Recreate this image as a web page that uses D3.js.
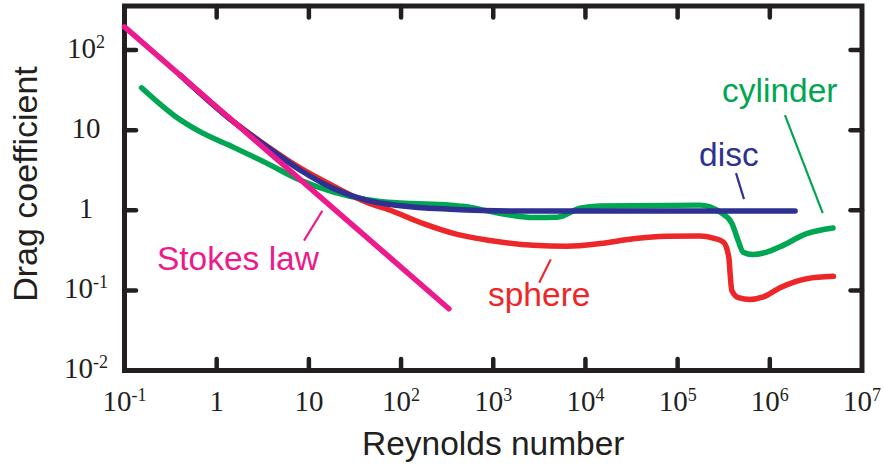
<!DOCTYPE html>
<html>
<head>
<meta charset="utf-8">
<script src="https://cdn.jsdelivr.net/npm/d3@7"></script>
<style>
  body { margin: 0; background: #fff; }
</style>
</head>
<body>
<svg id="chart" width="884" height="466"></svg>
<script>
// Tick decades on each axis (powers of ten)
const xTickExponents = [-1, 0, 1, 2, 3, 4, 5, 6, 7];
const yTickExponents = [-2, -1, 0, 1, 2];

// Drag coefficient curves: [Reynolds number, drag coefficient]
const stokes = [[0.1, 195], [330, 0.059]];

const cylinder = [
  [0.153, 33.8], [0.342, 15.4], [0.667, 9.5], [1.53, 6.1], [3.52, 3.85],
  [8.1, 2.37], [18.6, 1.69], [42.8, 1.36], [98, 1.23], [342, 1.16],
  [470, 1.12], [1000, 0.95], [1530, 0.87], [2720, 0.81], [4940, 0.82],
  [8770, 1.06], [14500, 1.13], [175000, 1.16], [289000, 0.95], [387000, 0.69],
  [453000, 0.42], [513000, 0.30], [658000, 0.28], [927000, 0.30],
  [1.29e6, 0.35], [2.51e6, 0.51], [4.85e6, 0.60]
];

const sphere = [
  [0.4, 48.8], [1.3, 14.8], [3.53, 6.3], [8.1, 3.35], [18.5, 2.0],
  [42.8, 1.25], [76.4, 1.0], [175, 0.68], [405, 0.50], [927, 0.42],
  [2730, 0.365], [6300, 0.355], [14500, 0.384], [33000, 0.44], [76400, 0.473],
  [175000, 0.477], [243000, 0.45], [314000, 0.40], [359000, 0.26],
  [371000, 0.162], [387000, 0.10], [457000, 0.081], [611000, 0.077],
  [851000, 0.083], [1.29e6, 0.108], [2.51e6, 0.14], [4.89e6, 0.15]
];

const disc = [
  [0.4, 48.8], [1.3, 14.7], [3.53, 6.18], [8.1, 3.16], [18.5, 1.87],
  [42.8, 1.33], [98, 1.14], [342, 1.03], [1530, 0.98], [1.88e6, 0.98]
];

const seriesNames = ["cylinder", "sphere", "disc", "Stokes law"];
const xTitle = "Reynolds number";
const yTitle = "Drag coefficient";

// ---- layout ----
const colors = {
  "cylinder": "#00a651",
  "sphere": "#ed2629",
  "disc": "#2e3192",
  "Stokes law": "#ec1a8c"
};
const ink = "#231f20";

const svg = d3.select("#chart");

const x = d3.scaleLog().domain([0.1, 1e7]).range([124.5, 862]);
const y = d3.scaleLog().domain([0.01, 355]).range([370.5, 6]);

const [x0, x1] = x.range();
const [y0, y1] = y.range();

// Series drawn back to front
const series = [
  { name: "cylinder", data: cylinder, curve: d3.curveMonotoneX },
  { name: "sphere", data: sphere, curve: d3.curveMonotoneX },
  { name: "disc", data: disc, curve: d3.curveMonotoneX },
  { name: "Stokes law", data: stokes, curve: d3.curveLinear }
];

// Frame
svg.append("rect")
  .attr("x", x0).attr("y", y1)
  .attr("width", x1 - x0).attr("height", y0 - y1)
  .attr("fill", "none").attr("stroke", ink).attr("stroke-width", 5);

// Inward ticks on all four sides
const tickLen = 11.5;
const innerX = xTickExponents.slice(1, -1).map(e => Math.pow(10, e));
const innerY = yTickExponents.slice(1).map(e => Math.pow(10, e));
const ticks = svg.append("g")
  .attr("stroke", ink).attr("stroke-width", 4.5).attr("stroke-linecap", "round");
innerX.forEach(v => {
  ticks.append("line").attr("x1", x(v)).attr("x2", x(v)).attr("y1", y0).attr("y2", y0 - tickLen);
  ticks.append("line").attr("x1", x(v)).attr("x2", x(v)).attr("y1", y1).attr("y2", y1 + tickLen);
});
innerY.forEach(v => {
  ticks.append("line").attr("y1", y(v)).attr("y2", y(v)).attr("x1", x0).attr("x2", x0 + tickLen);
  ticks.append("line").attr("y1", y(v)).attr("y2", y(v)).attr("x1", x1).attr("x2", x1 - tickLen);
});

// Power-of-ten tick labels with superscripts
function powerLabel(sel, e) {
  if (e === 0) { sel.text("1"); return; }
  if (e === 1) { sel.text("10"); return; }
  sel.append("tspan").text("10");
  sel.append("tspan").attr("font-size", 18).attr("dy", -10).text(String(e));
}

const tickFont = "'Liberation Serif', 'Times New Roman', serif";
xTickExponents.forEach(e => {
  const t = svg.append("text")
    .attr("x", x(Math.pow(10, e))).attr("y", 410.5)
    .attr("text-anchor", "middle")
    .attr("font-family", tickFont).attr("font-size", 29).attr("fill", ink);
  powerLabel(t, e);
});
yTickExponents.forEach(e => {
  const t = svg.append("text")
    .attr("x", 86).attr("y", y(Math.pow(10, e)) + 7.5)
    .attr("text-anchor", "middle")
    .attr("font-family", tickFont).attr("font-size", 29).attr("fill", ink);
  powerLabel(t, e);
});

// Axis titles
const sansFont = "'Liberation Sans', Arial, Helvetica, sans-serif";
svg.append("text")
  .attr("x", (x0 + x1) / 2).attr("y", 455)
  .attr("text-anchor", "middle")
  .attr("font-family", sansFont).attr("font-size", 33.5).attr("fill", ink)
  .text(xTitle);
svg.append("text")
  .attr("transform", `translate(37,${184}) rotate(-90)`)
  .attr("text-anchor", "middle")
  .attr("font-family", sansFont).attr("font-size", 34).attr("fill", ink)
  .text(yTitle);

// Curves
const line = d3.line().x(d => x(d[0])).y(d => y(d[1]));
series.forEach(s => {
  svg.append("path")
    .datum(s.data)
    .attr("d", line.curve(s.curve))
    .attr("fill", "none")
    .attr("stroke", colors[s.name])
    .attr("stroke-width", 5.5)
    .attr("stroke-linecap", "round")
    .attr("stroke-linejoin", "round");
});

// Callout labels and leader lines, placed in data coordinates
const callouts = [
  { name: "Stokes law", text: [0.225, 0.179], leader: [[14.0, 0.986], [8.85, 0.419]] },
  { name: "sphere", text: [877, 0.0637], leader: [[4200, 0.244], [3150, 0.1245]] },
  { name: "disc", text: [1.71e5, 3.61], leader: [[4.3e5, 2.91], [5.25e5, 1.38]] },
  { name: "cylinder", text: [3.03e5, 22.8], leader: [[1.46e6, 15.4], [3.75e6, 0.923]] }
];
callouts.forEach(c => {
  svg.append("line")
    .attr("x1", x(c.leader[0][0])).attr("y1", y(c.leader[0][1]))
    .attr("x2", x(c.leader[1][0])).attr("y2", y(c.leader[1][1]))
    .attr("stroke", colors[c.name]).attr("stroke-width", 2.2);
  svg.append("text")
    .attr("x", x(c.text[0])).attr("y", y(c.text[1]))
    .attr("font-family", sansFont).attr("font-size", 33.5)
    .attr("fill", colors[c.name])
    .text(c.name);
});
</script>
</body>
</html>
